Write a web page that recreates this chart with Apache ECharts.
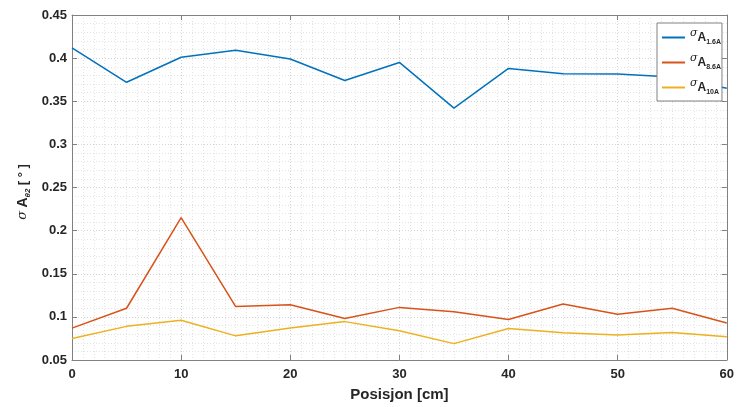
<!DOCTYPE html>
<html>
<head>
<meta charset="utf-8">
<script src="https://cdn.jsdelivr.net/npm/echarts@6/dist/echarts.min.js"></script>
<style>html,body{margin:0;padding:0;background:#fff}#c{width:737px;height:407px}</style>
</head>
<body>
<div id="c"></div>
<script>
// Data
const positions = [0, 5, 10, 15, 20, 25, 30, 35, 40, 45, 50, 55, 60];
const sigmaA16 = [0.412, 0.372, 0.401, 0.409, 0.399, 0.374, 0.395, 0.342, 0.388, 0.382, 0.3815, 0.378, 0.365];
const sigmaA86 = [0.087, 0.110, 0.215, 0.112, 0.114, 0.098, 0.111, 0.106, 0.097, 0.115, 0.103, 0.110, 0.093];
const sigmaA10 = [0.075, 0.089, 0.096, 0.078, 0.087, 0.0945, 0.084, 0.069, 0.0865, 0.0815, 0.079, 0.082, 0.077];
const seriesNames = ['1.6A', '8.6A', '10A'];
const seriesColors = ['#0072BD', '#D95319', '#EDB120'];
const xTitle = 'Posisjon [cm]';

const pairs = ys => positions.map((x, i) => [x, ys[i]]);
const font = 'Liberation Sans, Arial, sans-serif';
const axisGray = '#808080';
const textCol = '#262626';

const chart = echarts.init(document.getElementById('c'), null, {renderer: 'canvas'});
const gridLine = {show: true, lineStyle: {color: '#d4d4d4', type: [1, 2], width: 1}};
const minorLine = {show: true, lineStyle: {color: '#e3e3e3', type: [1, 2], width: 1}};

chart.setOption({
  animation: false,
  backgroundColor: '#fff',
  grid: {left: 72, right: 8, top: 15, bottom: 43.5, containLabel: false},
  xAxis: [{
    type: 'value', min: 0, max: 60, interval: 10, position: 'bottom',
    name: xTitle, nameLocation: 'middle', nameGap: 27,
    nameTextStyle: {fontFamily: font, fontWeight: 'bold', fontSize: 15, color: textCol},
    axisLine: {show: true, onZero: false, lineStyle: {color: axisGray, width: 1}},
    axisTick: {show: true, inside: true, length: 5, lineStyle: {color: axisGray}},
    axisLabel: {fontFamily: font, fontWeight: 'bold', fontSize: 13, color: textCol, margin: 8},
    splitLine: gridLine,
    minorTick: {show: false, splitNumber: 10},
    minorSplitLine: minorLine
  }, {
    type: 'value', min: 0, max: 60, interval: 10, position: 'top',
    axisLine: {show: true, onZero: false, lineStyle: {color: axisGray, width: 1}},
    axisTick: {show: true, inside: true, length: 5, lineStyle: {color: axisGray}},
    axisLabel: {show: false}, splitLine: {show: false}
  }],
  yAxis: [{
    type: 'value', min: 0.05, max: 0.45, interval: 0.05, position: 'left',
    axisLine: {show: true, onZero: false, lineStyle: {color: axisGray, width: 1}},
    axisTick: {show: true, inside: true, length: 5, lineStyle: {color: axisGray}},
    axisLabel: {fontFamily: font, fontWeight: 'bold', fontSize: 13, color: textCol, margin: 5,
      formatter: v => String(+v.toFixed(2))},
    splitLine: gridLine,
    minorTick: {show: false, splitNumber: 5},
    minorSplitLine: minorLine
  }, {
    type: 'value', min: 0.05, max: 0.45, interval: 0.05, position: 'right',
    axisLine: {show: true, onZero: false, lineStyle: {color: axisGray, width: 1}},
    axisTick: {show: true, inside: true, length: 5, lineStyle: {color: axisGray}},
    axisLabel: {show: false}, splitLine: {show: false}
  }],
  legend: {
    orient: 'vertical', left: 657, top: 23,
    data: seriesNames,
    backgroundColor: '#fff', borderColor: '#808080', borderWidth: 1, borderRadius: 0,
    padding: [5, 1, 5, 5], itemGap: 7,
    itemWidth: 23, itemHeight: 2, icon: 'rect',
    formatter: n => '{s|σ}{a|A}{b|' + n + '}',
    textStyle: {
      color: textCol,
      rich: {
        s: {fontFamily: 'DejaVu Serif', fontStyle: 'italic', fontSize: 11, color: textCol, padding: [0, 0, 8, 0]},
        a: {fontFamily: font, fontWeight: 'bold', fontSize: 12, color: textCol},
        b: {fontFamily: font, fontWeight: 'bold', fontSize: 7, color: textCol, padding: [10, 0, 0, 0]}
      }
    }
  },
  graphic: [{
    type: 'text', x: 23, y: 192, rotation: Math.PI / 2,
    style: {
      text: '{s|σ} {a|A}{b|θ2} {c|[ ° ]}',
      align: 'center', verticalAlign: 'middle',
      rich: {
        s: {fontFamily: 'DejaVu Serif', fontStyle: 'italic', fontSize: 13, fill: textCol},
        a: {fontFamily: font, fontWeight: 'bold', fontSize: 14, fill: textCol},
        b: {fontFamily: font, fontWeight: 'bold', fontStyle: 'italic', fontSize: 8, fill: textCol, padding: [10, 0, 0, 0]},
        c: {fontFamily: font, fontWeight: 'bold', fontSize: 13, fill: textCol}
      }
    }
  }],
  series: [
    {name: seriesNames[0], type: 'line', data: pairs(sigmaA16), color: seriesColors[0], showSymbol: false, symbol: 'none', lineStyle: {width: 1.5}, z: 3},
    {name: seriesNames[1], type: 'line', data: pairs(sigmaA86), color: seriesColors[1], showSymbol: false, symbol: 'none', lineStyle: {width: 1.5}, z: 3},
    {name: seriesNames[2], type: 'line', data: pairs(sigmaA10), color: seriesColors[2], showSymbol: false, symbol: 'none', lineStyle: {width: 1.5}, z: 3}
  ]
});
</script>
</body>
</html>
